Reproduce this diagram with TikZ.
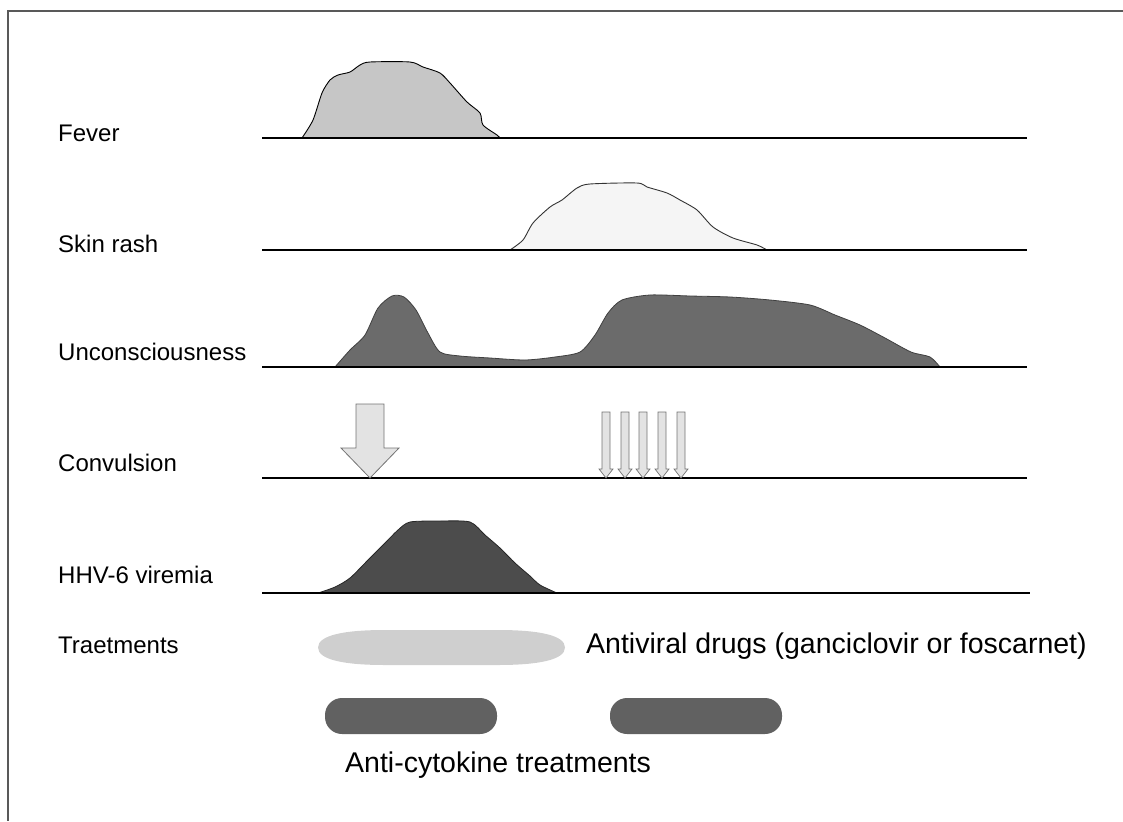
\documentclass[tikz,border=0pt]{standalone}
\usepackage{fontspec}
\setmainfont{Liberation Sans}
\begin{document}
\begin{tikzpicture}[x=1pt,y=-1pt,
  lbl/.style={anchor=base west, font=\fontsize{24}{28}\selectfont, inner sep=0pt},
  bigtxt/.style={anchor=base west, font=\fontsize{28.5}{33}\selectfont, inner sep=0pt},
  baseln/.style={line width=1.8pt, black},
  hump/.style={draw=black, line width=0.9pt, line join=round},
  arr/.style={draw=gray!90!black, fill=gray!22, line width=0.8pt, line join=miter},
  pill/.style={rounded corners=17pt, draw=none}]
\useasboundingbox (0,0) rectangle (1123,821);
% frame (top and left only)
\draw[gray!70!black, line width=1.2pt] (1123,11) -- (8,11) -- (8,821);

% labels
\node[lbl] (lfever) at (58,142) {Fever};
\node[lbl] (lrash) at (58,252) {Skin rash};
\node[lbl] (lunc) at (58,360) {Unconsciousness};
\node[lbl] (lconv) at (58,471) {Convulsion};
\node[lbl] (lhhv) at (58,583) {HHV-6 viremia};
\node[lbl] (ltreat) at (58,653) {Traetments};

% fever
\fill[gray!45] plot[smooth, tension=0.45] coordinates {(302,138) (313,120) (322,93) (330,80) (338,75) (350,72) (360,65) (370,62) (410,62) (423,67) (440,73) (450,83) (467,102) (480,113) (483,125) (497,135) (500,138)} -- cycle;
\draw[hump] plot[smooth, tension=0.45] coordinates {(302,138) (313,120) (322,93) (330,80) (338,75) (350,72) (360,65) (370,62) (410,62) (423,67) (440,73) (450,83) (467,102) (480,113) (483,125) (497,135) (500,138)};
\draw[baseln] (262,138) coordinate (f0) -- (1027,138) coordinate (f1);

% skin rash
\fill[gray!8] plot[smooth, tension=0.45] coordinates {(510,250) (523,240) (533,223) (550,207) (562,200) (577,188) (590,184) (637,183) (647,187) (667,193) (680,200) (697,210) (713,227) (733,238) (757,245) (767,250)} -- cycle;
\draw[hump, draw=black!80] plot[smooth, tension=0.45] coordinates {(510,250) (523,240) (533,223) (550,207) (562,200) (577,188) (590,184) (637,183) (647,187) (667,193) (680,200) (697,210) (713,227) (733,238) (757,245) (767,250)};
\draw[baseln] (262,250) coordinate (r0) -- (1027,250) coordinate (r1);

% unconsciousness
\fill[fill=black!58, draw=black!75, line width=0.8pt] plot[smooth, tension=0.45] coordinates {(335,367) (350,350) (365,335) (378,308) (392,296) (404,297) (416,310) (428,333) (440,352) (460,356) (490,358) (525,360) (555,357) (580,352) (595,335) (608,313) (622,300) (650,295) (690,296) (730,297) (770,300) (810,305) (835,315) (860,325) (885,338) (911,352) (930,357) (940,367)} -- cycle;
\draw[baseln] (262,367) coordinate (u0) -- (1027,367) coordinate (u1);

% convulsion
\draw[baseln] (262,478) coordinate (c0) -- (1027,478) coordinate (c1);
\draw[arr] (356,404) -- (384,404) -- (384,448) -- (399,448) -- (370,478) -- (341,448) -- (356,448) -- cycle;
\foreach \c in {606,625,643,662,681}{
  \draw[arr, line width=0.7pt] (\c-4,412) -- (\c+4,412) -- (\c+4,469) -- (\c+7,469) -- (\c,478) -- (\c-7,469) -- (\c-4,469) -- cycle;
}

% HHV-6 viremia
\fill[black!70, draw=black!85, line width=0.8pt] plot[smooth, tension=0.45] coordinates {(318,593) (335,587) (350,578) (368,560) (385,543) (398,530) (410,522) (440,521) (470,522) (485,535) (500,548) (515,563) (530,576) (540,585) (557,593)} -- cycle;
\draw[baseln] (262,593) coordinate (h0) -- (1030,593) coordinate (h1);

% treatments
\fill[gray!38] (318,647.5) .. controls (318,635) and (345,630) .. (385,630) -- (498,630) .. controls (538,630) and (565,635) .. (565,647.5) .. controls (565,660) and (538,665) .. (498,665) -- (385,665) .. controls (345,665) and (318,660) .. (318,647.5) -- cycle;
\node[bigtxt] (tav) at (586,653) {Antiviral drugs (ganciclovir or foscarnet)};
\fill[pill, black!62] (325,698) rectangle (497,734);
\fill[pill, black!62] (610,698) rectangle (782,734);
\node[bigtxt] (tac) at (345,772) {Anti-cytokine treatments};
\end{tikzpicture}
\end{document}
